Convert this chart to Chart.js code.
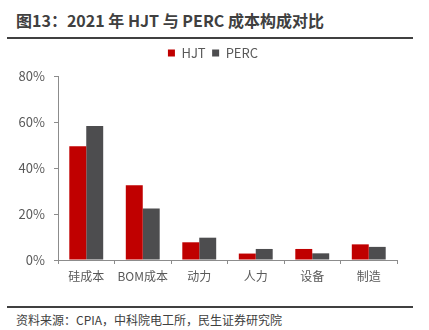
<!DOCTYPE html>
<html>
<head>
<meta charset="utf-8">
<script src="https://cdn.jsdelivr.net/npm/chart.js@4.4.0/dist/chart.umd.min.js"></script>
<style>
  html, body { margin: 0; padding: 0; background: #fff; }
  body { width: 429px; height: 330px; position: relative; overflow: hidden; font-family: "Noto Sans CJK SC", "Noto Sans", sans-serif; }
  .title { position: absolute; left: 16px; top: 8px; font-size: 16px; font-weight: bold; color: #404040; white-space: nowrap; }
  .rule { position: absolute; left: 7px; width: 406px; background: #404040; }
  .source { position: absolute; left: 16px; top: 311px; font-size: 12px; color: #404040; white-space: nowrap; }
  .wrap { position: absolute; left: 0; top: 40px; width: 429px; height: 262px; }
</style>
</head>
<body>
<div class="title">图13：2021 年 HJT 与 PERC 成本构成对比</div>
<div class="rule" style="top:37px;height:2px"></div>
<div class="wrap"><canvas id="chart"></canvas></div>
<div class="rule" style="top:306px;height:1.5px"></div>
<div class="source">资料来源：CPIA，中科院电工所，民生证券研究院</div>
<script>
const categories = ["硅成本", "BOM成本", "动力", "人力", "设备", "制造"];
const hjt = [49.5, 32.5, 7.7, 2.8, 4.8, 6.8];
const perc = [58.3, 22.4, 9.7, 4.8, 2.9, 5.7];
const yTicks = [0, 20, 40, 60, 80];

const axisColor = "#8c8c8c";
const textColor = "#595959";

new Chart(document.getElementById("chart"), {
  type: "bar",
  data: {
    labels: categories,
    datasets: [
      { label: "HJT", data: hjt, backgroundColor: "#c00000", categoryPercentage: 0.6, barPercentage: 1.0 },
      { label: "PERC", data: perc, backgroundColor: "#4d4d4f", categoryPercentage: 0.6, barPercentage: 1.0 },
    ],
  },
  options: {
    responsive: true,
    maintainAspectRatio: false,
    animation: false,
    layout: { padding: { top: 0, right: 3, bottom: 0, left: 0 } },
    plugins: {
      legend: {
        labels: {
          boxWidth: 7,
          boxHeight: 7,
          padding: 6.5,
          color: textColor,
          font: { family: "Noto Sans CJK SC", size: 13 },
        },
      },
      // empty title/subtitle act as spacers: right margin of the plot, gap under the legend
      title: { display: true, text: "", position: "right", fullSize: false, padding: 0, font: { size: 29, lineHeight: 1 } },
      subtitle: { display: true, text: "", weight: 500, padding: 0, font: { size: 6.5, lineHeight: 1 } },
      tooltip: { enabled: false },
    },
    scales: {
      x: {
        afterFit: (scale) => { scale.height = 42; },
        grid: { drawOnChartArea: false, tickLength: 4, color: axisColor, offset: true },
        border: { color: axisColor },
        ticks: {
          color: textColor, padding: 5, autoSkip: false, maxRotation: 0, minRotation: 0,
          font: { family: "Noto Sans CJK SC", size: 12 },
        },
      },
      y: {
        min: 0,
        max: 80,
        afterFit: (scale) => { scale.width = 58; },
        afterBuildTicks: (scale) => { scale.ticks = yTicks.map((v) => ({ value: v })); },
        grid: { drawOnChartArea: false, tickLength: 4, color: axisColor },
        border: { color: axisColor },
        ticks: { color: textColor, padding: 9, font: { family: "Noto Sans CJK SC", size: 13 }, callback: (v) => v + "%" },
      },
    },
  },
});
</script>
</body>
</html>
